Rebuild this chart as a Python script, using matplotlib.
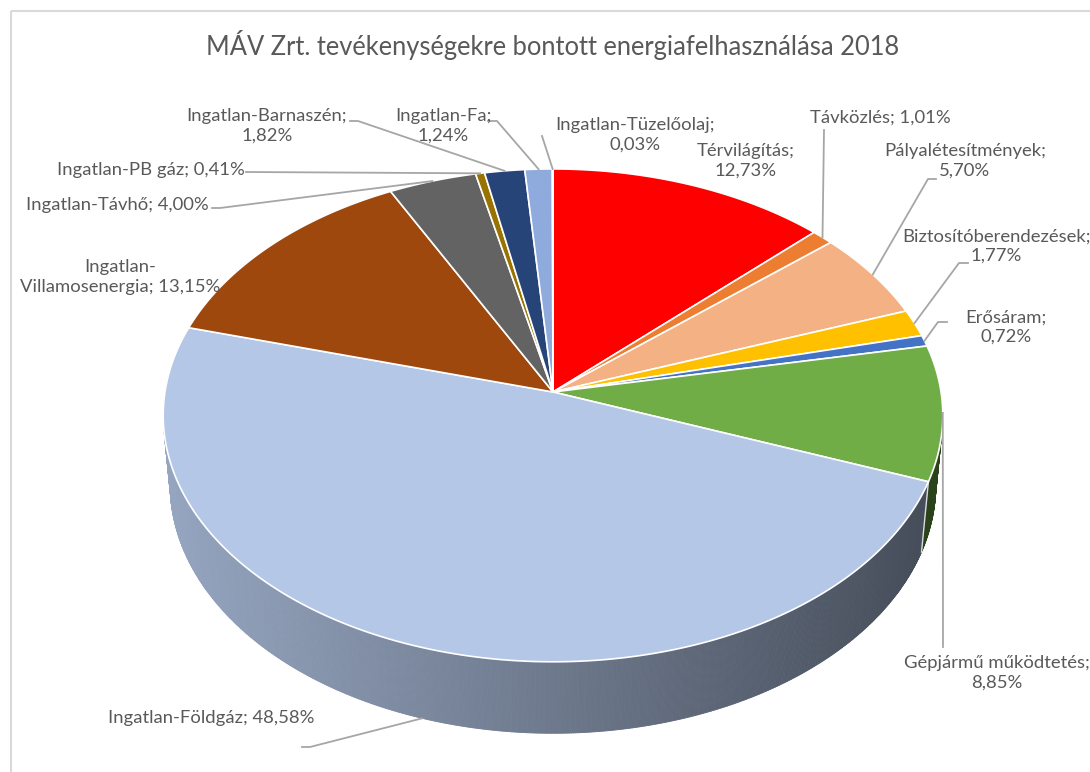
import numpy as np
import matplotlib
matplotlib.use('Agg')
import matplotlib.pyplot as plt
from matplotlib.patches import Polygon, Rectangle
from matplotlib.collections import PolyCollection
from matplotlib.colors import to_rgb

# adatok (óramutató járásával, 12 órától)
nevek = ['Térvilágítás', 'Távközlés', 'Pályalétesítmények', 'Biztosítóberendezések',
         'Erősáram', 'Gépjármű működtetés', 'Ingatlan-Földgáz', 'Ingatlan-Villamosenergia',
         'Ingatlan-Távhő', 'Ingatlan-PB gáz', 'Ingatlan-Barnaszén', 'Ingatlan-Fa',
         'Ingatlan-Tüzelőolaj']
ertekek = [12.73, 1.01, 5.70, 1.77, 0.72, 8.85, 48.58, 13.15, 4.00, 0.41, 1.82, 1.24, 0.03]
szinek = ['#ff0000', '#ed7d31', '#f4b183', '#ffc000', '#4472c4', '#70ad47', '#b4c7e7',
          '#9e480e', '#636363', '#997300', '#264478', '#8faadc', '#a9d18e']
cim = 'MÁV Zrt. tevékenységekre bontott energiafelhasználása 2018'

# feliratok elrendezése
elvalaszto = [';\n', '; ', ';\n', ';\n', ';\n', ';\n', '; ', '; ', '; ', '; ', ';\n', ';\n', ';\n']
nev_tores = {'Ingatlan-Villamosenergia': 'Ingatlan-\nVillamosenergia'}
felirat_xy = [(746, 161), (880, 118), (965, 161), (996, 246), (1006, 327), (997, 673),
              (211, 718), (120, 277), (117, 205), (151, 170), (267, 126), (443, 126),
              (635, 135)]
# vezetővonal kezdőpontjai (None = nincs vonal)
vonal_eleje = [None, [(824, 130)], [(936, 179), (928, 179)], [(968, 263), (959, 263)],
               [(947, 322), (938, 322)], [(943, 647)], [(302, 747), (310, 747)], None,
               [(212, 208), (220, 208)], [(246, 172)], [(350, 121), (358, 121)],
               [(488, 121), (497, 121)], [(542, 136)]]

# 3D nézet paraméterei (pixelben)
CX, CY = 553, 392
F = 3178.0
D = 8.19
EL = np.radians(39)
H = 0.235


def vetit(phi, y=0.0):
    X = np.sin(phi)
    Z = np.cos(phi)
    fel = y * np.cos(EL) + Z * np.sin(EL)
    mely = D + Z * np.cos(EL) - y * np.sin(EL)
    return CX + F * X / mely, CY - F * fel / mely


fig = plt.figure(figsize=(10.9, 7.72), dpi=100)
ax = fig.add_axes([0, 0, 1, 1])
ax.set_xlim(0, 1090)
ax.set_ylim(772, 0)
ax.axis('off')

ax.add_patch(Rectangle((10.5, 10.5), 1200, 1000, fill=False, edgecolor='#d9d9d9', lw=1.5))

ert = np.array(ertekek)
hatar = np.concatenate([[0], np.cumsum(ert) / ert.sum() * 2 * np.pi])
cos_lim = -1 / (D * np.cos(EL))

# oldalfal
negyszogek, quad_szin = [], []
for i in range(len(ert)):
    n = max(2, int((hatar[i + 1] - hatar[i]) / np.radians(0.3)))
    ph = np.linspace(hatar[i], hatar[i + 1], n + 1)
    alap = np.array(to_rgb(szinek[i]))
    for j in range(n):
        m = 0.5 * (ph[j] + ph[j + 1])
        if np.cos(m) >= cos_lim:
            continue
        x0, y0 = vetit(ph[j])
        x1, y1 = vetit(ph[j + 1])
        x2, y2 = vetit(ph[j + 1], -H)
        x3, y3 = vetit(ph[j], -H)
        negyszogek.append([(x0, y0), (x1, y1), (x2, y2), (x3, y3)])
        s = np.clip(0.83 - 0.45 * ((x0 + x1) / 2 - 165) / 779, 0.3, 0.9)
        quad_szin.append(np.clip(alap * s, 0, 1))
ax.add_collection(PolyCollection(negyszogek, facecolors=quad_szin, edgecolors=quad_szin,
                                 linewidths=0.6, zorder=2))
for b in hatar[1:-1]:
    if np.cos(b) < cos_lim:
        xa, ya = vetit(b)
        xb, yb = vetit(b, -H)
        ax.plot([xa, xb], [ya, yb], color='white', lw=1, alpha=0.8, zorder=3)

# teteje
for i in range(len(ert)):
    n = max(2, int((hatar[i + 1] - hatar[i]) / np.radians(0.5)))
    ph = np.linspace(hatar[i], hatar[i + 1], n + 1)
    xs, ys = vetit(ph)
    pts = [(CX, CY)] + list(zip(xs, ys))
    ax.add_patch(Polygon(pts, closed=True, facecolor=szinek[i], edgecolor='white',
                         lw=1.2, joinstyle='round', zorder=4))

# feliratok és vezetővonalak
for i in range(len(ert)):
    nev = nev_tores.get(nevek[i], nevek[i])
    szoveg = nev + elvalaszto[i] + f'{ertekek[i]:.2f}'.replace('.', ',') + '%'
    ax.text(felirat_xy[i][0], felirat_xy[i][1], szoveg, ha='center', va='center',
            fontsize=13.3, family='Lato', color='#595959', linespacing=1.25, zorder=6)
    if vonal_eleje[i] is not None:
        kozep = 0.5 * (hatar[i] + hatar[i + 1])
        if nevek[i] == 'Ingatlan-Földgáz':
            vx, vy = vetit(kozep, -H)
        else:
            vx, vy = vetit(kozep)
        pts = vonal_eleje[i] + [(vx, vy)]
        ax.plot([p[0] for p in pts], [p[1] for p in pts], color='#a6a6a6', lw=1.3, zorder=5)

ax.text(553, 45, cim, ha='center', va='center', fontsize=18.4, family='Lato', color='#595959')

fig.savefig('out.png', dpi=100)
